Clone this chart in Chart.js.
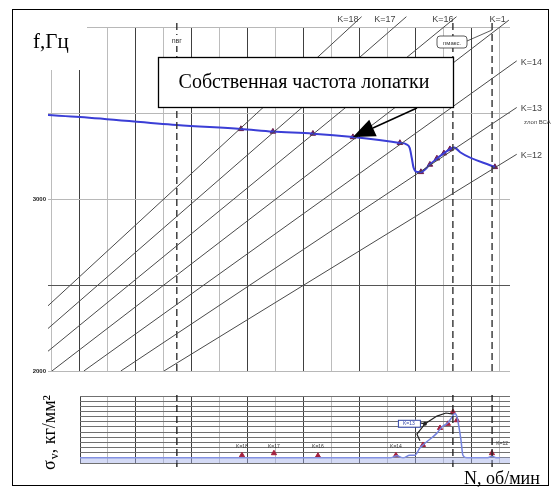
<!DOCTYPE html>
<html>
<head>
<meta charset="utf-8">
<script src="https://cdn.jsdelivr.net/npm/chart.js@4.4.1/dist/chart.umd.min.js"></script>
<style>
  html, body { margin: 0; padding: 0; background: #fff; }
  #wrap { position: relative; width: 553px; height: 488px; overflow: hidden; }
  #frame { position: absolute; left: 12px; top: 9px; width: 537px; height: 477px; border: 1.5px solid #000; box-sizing: border-box; }
  #campbell { position: absolute; left: 0; top: 0; }
  #stress { position: absolute; left: 0; top: 380px; }
</style>
</head>
<body>
<div id="wrap">
  <div id="frame"></div>
  <canvas id="campbell" width="553" height="380"></canvas>
  <canvas id="stress" width="553" height="108"></canvas>
</div>
<script>
// Rotor speed grid (rpm) and blade frequency grid (Hz)
const speedTicks = [8000, 8500, 9000, 9500, 10000, 10500, 11000, 11500, 12000, 12500, 13000, 13500, 14000, 14500, 15000, 15500, 16000];
const freqTicks = [2000, 2500, 3000, 3500, 4000];
const freqLabelled = [2000, 3000];
const stressTicks = [0, 1, 2, 3, 4, 5, 6, 7, 8, 9, 10, 11, 12, 13];

// Engine-order excitation lines (start and end points)
const orderNames = ['K=18', 'K=17', 'K=16', 'K=1', 'K=14', 'K=13', 'K=12'];
const orderStartN = [7930, 7930, 7930, 8000, 8570, 9230, 10000];
const orderStartF = [2379, 2247, 2115, 2000, 2000, 2000, 2000];
const orderEndN = [13530, 14330, 15225, 16160, 16300, 16300, 16300];
const orderEndF = [4060, 4060, 4060, 4040, 3803, 3532, 3260];

// Blade natural frequency vs speed
const bladeN = [7930, 8500, 10230, 11375, 11946, 12661, 13375, 14214, 14330, 14390, 14425, 14460, 14520, 14589, 14750, 14875, 15000, 15107, 15180, 15230, 15290, 15910];
const bladeF = [3488, 3477, 3430, 3407, 3392, 3380, 3360, 3326, 3318, 3296, 3240, 3180, 3157, 3157, 3200, 3236, 3266, 3290, 3300, 3290, 3272, 3186];

// Resonance points on the frequency curve
const resonanceN = [11375, 11946, 12661, 13375, 14214, 14589, 14750, 14875, 15000, 15107, 15910];
const resonanceF = [3407, 3392, 3380, 3360, 3326, 3157, 3200, 3236, 3266, 3290, 3186];

// Characteristic speeds (dashed verticals)
const markSpeeds = [10230, 15160, 15860];

// Vibration stress vs speed
const stressN = [8500, 13680, 14040, 14160, 14270, 14390, 14480, 14570, 14625, 14875, 14964, 15071, 15143, 15196, 15232, 15268, 15304, 15339, 15411, 15768, 15857, 15946, 16000];
const stressS = [1.0, 1.0, 1.0, 1.4, 1.0, 1.5, 1.5, 2.9, 3.5, 5.8, 7.0, 7.8, 8.9, 9.6, 9.0, 7.0, 4.5, 1.5, 1.0, 1.0, 1.3, 1.0, 1.0];
const stressBase = 1.1;

// Measured resonance stress points
const stressPtN = [11393, 11964, 12750, 14143, 14625, 14930, 15071, 15161, 15232, 15857];
const stressPtS = [1.5, 1.9, 1.4, 1.5, 3.5, 6.8, 7.6, 9.9, 8.3, 1.9];
const stressTagNames = ['K=18', 'K=17', 'K=16', 'K=14', 'K=12'];
const stressTagN = [11393, 11964, 12750, 14143, 16040];
const stressTagS = [3.1, 3.1, 3.1, 3.1, 3.7];

// K=13 resonance bracket
const bracketUpN = [14571, 14661, 14875, 15036, 15161];
const bracketUpS = [7.8, 7.6, 9.1, 9.7, 9.5];
const bracketLowN = [14661, 14518, 14571];
const bracketLowS = [7.6, 5.6, 4.3];

const serif = "'Liberation Serif', 'Times New Roman', serif";
const sans = "'Liberation Sans', Arial, sans-serif";
const pts = (xs, ys) => xs.map((x, i) => ({ x: x, y: ys[i] }));
const speedGridColor = c => (c.tick && c.tick.value % 1000 === 500) ? '#404040' : '#bcbcbc';

// ---------- Campbell diagram ----------
const upperSets = [];
orderNames.forEach((name, i) => {
  upperSets.push({
    label: name,
    data: [{ x: orderStartN[i], y: orderStartF[i] }, { x: orderEndN[i], y: orderEndF[i] }],
    borderColor: '#4a4a4a', borderWidth: 1, pointRadius: 0,
    clip: { left: 0, top: 16, right: 12, bottom: 0 }
  });
});
markSpeeds.forEach(n => {
  upperSets.push({
    data: [{ x: n, y: 2000 }, { x: n, y: 4040 }],
    borderColor: '#333', borderWidth: 1.4, borderDash: [7, 4], pointRadius: 0,
    clip: { left: 0, top: 16, right: 0, bottom: 0 }
  });
});
upperSets.push({
  label: 'Собственная частота лопатки',
  data: pts(bladeN, bladeF),
  borderColor: '#3b3ed6', borderWidth: 2, pointRadius: 0,
  cubicInterpolationMode: 'monotone'
});
upperSets.push({
  data: pts(resonanceN, resonanceF),
  showLine: false, pointStyle: 'triangle', pointRadius: 3.2,
  backgroundColor: '#6c1e50', borderColor: '#6c1e50'
});

const upperDecor = {
  id: 'upperDecor',
  beforeDatasetsDraw(chart) {
    const ctx = chart.ctx, a = chart.chartArea;
    ctx.save();
    ctx.fillStyle = '#fff';
    ctx.fillRect(a.left - 1, a.top - 1, 40, 44);
    ctx.restore();
  },
  afterDatasetsDraw(chart) {
    const ctx = chart.ctx, xs = chart.scales.x, ys = chart.scales.y;
    ctx.save();
    // axis name
    ctx.fillStyle = '#000';
    ctx.font = '21px ' + serif;
    ctx.textBaseline = 'alphabetic';
    ctx.fillText('f,Гц', 33, 48);

    // order labels at the ends of the lines
    ctx.font = '9px ' + sans;
    ctx.fillStyle = '#444';
    orderNames.forEach((name, i) => {
      const ex = xs.getPixelForValue(orderEndN[i]);
      const ey = ys.getPixelForValue(orderEndF[i]);
      if (orderEndF[i] >= 4000) {
        ctx.textAlign = 'right';
        ctx.fillText(name, Math.min(ex - 3, 507) - (name === 'K=17' ? 8 : 0), 22);
      } else {
        ctx.textAlign = 'left';
        ctx.fillText(name, ex + 4, ey + 4);
      }
    });
    ctx.textAlign = 'left';
    ctx.font = '6px ' + sans;
    ctx.fillText('zлоп ВСА', 524, 124);

    // speed marks
    const n0 = xs.getPixelForValue(markSpeeds[0]);
    ctx.fillStyle = '#fff';
    ctx.fillRect(n0 - 6, 35, 13, 11);
    ctx.fillStyle = '#333';
    ctx.font = '7px ' + sans;
    ctx.textAlign = 'center';
    ctx.fillText('nвг', n0, 43);

    const n2 = xs.getPixelForValue(markSpeeds[2]);
    ctx.beginPath();
    ctx.strokeStyle = '#333'; ctx.lineWidth = 0.8;
    ctx.moveTo(467, 41); ctx.lineTo(n2, 30);
    ctx.stroke();
    ctx.beginPath();
    ctx.fillStyle = '#fff';
    ctx.roundRect(437, 36, 30, 12, 3);
    ctx.fill(); ctx.stroke();
    ctx.fillStyle = '#333';
    ctx.font = '6px ' + sans;
    ctx.fillText('nмакс.', 452, 45);

    // title box
    ctx.fillStyle = '#fff';
    ctx.fillRect(158, 57, 295, 50);
    ctx.strokeStyle = '#000'; ctx.lineWidth = 1.3;
    ctx.strokeRect(158.5, 57.5, 295, 50);
    ctx.fillStyle = '#000';
    ctx.font = '20px ' + serif;
    ctx.textAlign = 'center';
    ctx.textBaseline = 'middle';
    ctx.fillText('Собственная частота лопатки', 304, 83);

    // pointer arrow to the curve
    const tx = xs.getPixelForValue(resonanceN[3]);
    const ty = ys.getPixelForValue(resonanceF[3]);
    const sx = 417, sy = 108;
    const dx = tx - sx, dy = ty - sy, len = Math.hypot(dx, dy);
    const ux = dx / len, uy = dy / len;
    const bx = tx - ux * 22, by = ty - uy * 22;
    ctx.beginPath();
    ctx.strokeStyle = '#000'; ctx.lineWidth = 1.5;
    ctx.moveTo(sx, sy); ctx.lineTo(bx, by);
    ctx.stroke();
    ctx.beginPath();
    ctx.fillStyle = '#000';
    ctx.moveTo(tx, ty);
    ctx.lineTo(bx - uy * 9, by + ux * 9);
    ctx.lineTo(bx + uy * 9, by - ux * 9);
    ctx.closePath();
    ctx.fill();
    ctx.restore();
  }
};

new Chart(document.getElementById('campbell'), {
  type: 'line',
  data: { datasets: upperSets },
  plugins: [upperDecor],
  options: {
    responsive: false, animation: false,
    layout: { padding: { left: 0, top: 27, right: 43, bottom: 9 } },
    plugins: { legend: { display: false }, tooltip: { enabled: false } },
    scales: {
      x: {
        type: 'linear', min: 7930, max: 16180,
        afterBuildTicks: s => { s.ticks = speedTicks.map(v => ({ value: v })); },
        afterFit: s => { s.height = 0; },
        ticks: { display: false },
        border: { display: false },
        grid: { drawTicks: false, color: speedGridColor, lineWidth: 1 }
      },
      y: {
        type: 'linear', min: 2000, max: 4000,
        afterBuildTicks: s => { s.ticks = freqTicks.map(v => ({ value: v })); },
        afterFit: s => { s.width = 48; },
        ticks: {
          padding: 2, color: '#222',
          font: { size: 6, weight: 'bold', family: sans },
          callback: v => freqLabelled.includes(v) ? String(v) : ''
        },
        border: { display: false },
        grid: { drawTicks: false, lineWidth: 1, color: c => (c.tick && c.tick.value === 2500) ? '#555' : '#b8b8b8' }
      }
    }
  }
});

// ---------- Vibration stress ----------
const lowerSets = [];
lowerSets.push({
  data: [{ x: 8500, y: stressBase }, { x: 16180, y: stressBase }],
  borderWidth: 0, pointRadius: 0, fill: 'origin',
  backgroundColor: 'rgba(160,172,232,0.45)'
});
markSpeeds.forEach(n => {
  lowerSets.push({
    data: [{ x: n, y: -0.8 }, { x: n, y: 13.2 }],
    borderColor: '#222', borderWidth: 1.4, borderDash: [7, 4], pointRadius: 0,
    clip: { left: 0, top: 4, right: 0, bottom: 6 }
  });
});
lowerSets.push({
  data: pts(stressN, stressS),
  borderColor: '#7483de', borderWidth: 1.5, pointRadius: 0,
  cubicInterpolationMode: 'monotone'
});
lowerSets.push({
  data: pts(bracketUpN, bracketUpS),
  borderColor: '#222', borderWidth: 1.2, pointRadius: 0
});
lowerSets.push({
  data: pts(bracketLowN, bracketLowS),
  borderColor: '#222', borderWidth: 1.2, pointRadius: [2, 0, 0],
  pointBackgroundColor: '#222', pointBorderWidth: 0
});
lowerSets.push({
  data: pts(stressPtN, stressPtS),
  showLine: false, pointStyle: 'triangle', pointRadius: 3,
  backgroundColor: '#a3203e', borderColor: '#a3203e'
});

const lowerDecor = {
  id: 'lowerDecor',
  afterDatasetsDraw(chart) {
    const ctx = chart.ctx, xs = chart.scales.x, ys = chart.scales.y;
    ctx.save();
    // small order tags
    ctx.font = '5px ' + sans;
    ctx.fillStyle = '#333';
    ctx.textAlign = 'center';
    ctx.textBaseline = 'middle';
    stressTagNames.forEach((t, i) => {
      ctx.fillText(t, xs.getPixelForValue(stressTagN[i]), ys.getPixelForValue(stressTagS[i]));
    });
    // boxed K=13 tag
    const bx = xs.getPixelForValue(bracketUpN[0]) - 22;
    const by = ys.getPixelForValue(bracketUpS[0]) - 3;
    ctx.fillStyle = '#fff';
    ctx.fillRect(bx, by, 22, 7);
    ctx.strokeStyle = '#3346a8'; ctx.lineWidth = 1;
    ctx.strokeRect(bx + 0.5, by + 0.5, 22, 7);
    ctx.fillStyle = '#3346a8';
    ctx.fillText('K=13', bx + 11, by + 4);

    // axis names
    ctx.fillStyle = '#000';
    ctx.textBaseline = 'alphabetic';
    ctx.textAlign = 'left';
    ctx.font = '18px ' + serif;
    ctx.fillText('N, об/мин', 464, 104);

    ctx.translate(55, 90);
    ctx.rotate(-Math.PI / 2);
    ctx.font = '18px ' + serif;
    ctx.fillText('σ', 0, 0);
    let w = ctx.measureText('σ').width + 1;
    ctx.font = '12px ' + serif;
    ctx.fillText('v', w, 3);
    w += ctx.measureText('v').width;
    ctx.font = '18px ' + serif;
    ctx.fillText(', кг/мм²', w, 0);
    ctx.restore();
  }
};

new Chart(document.getElementById('stress'), {
  type: 'line',
  data: { datasets: lowerSets },
  plugins: [lowerDecor],
  options: {
    responsive: false, animation: false,
    layout: { padding: { left: 0, top: 16, right: 43, bottom: 25 } },
    plugins: { legend: { display: false }, tooltip: { enabled: false } },
    scales: {
      x: {
        type: 'linear', min: 8500, max: 16180,
        afterBuildTicks: s => { s.ticks = speedTicks.filter(v => v >= 8500).map(v => ({ value: v })); },
        afterFit: s => { s.height = 0; },
        ticks: { display: false },
        border: { display: false },
        grid: { drawTicks: false, color: speedGridColor, lineWidth: 1 }
      },
      y: {
        type: 'linear', min: 0, max: 13,
        afterBuildTicks: s => { s.ticks = stressTicks.map(v => ({ value: v })); },
        afterFit: s => { s.width = 80; },
        ticks: { display: false },
        border: { display: false },
        grid: { drawTicks: false, color: '#707070', lineWidth: 1 }
      }
    }
  }
});
</script>
</body>
</html>
